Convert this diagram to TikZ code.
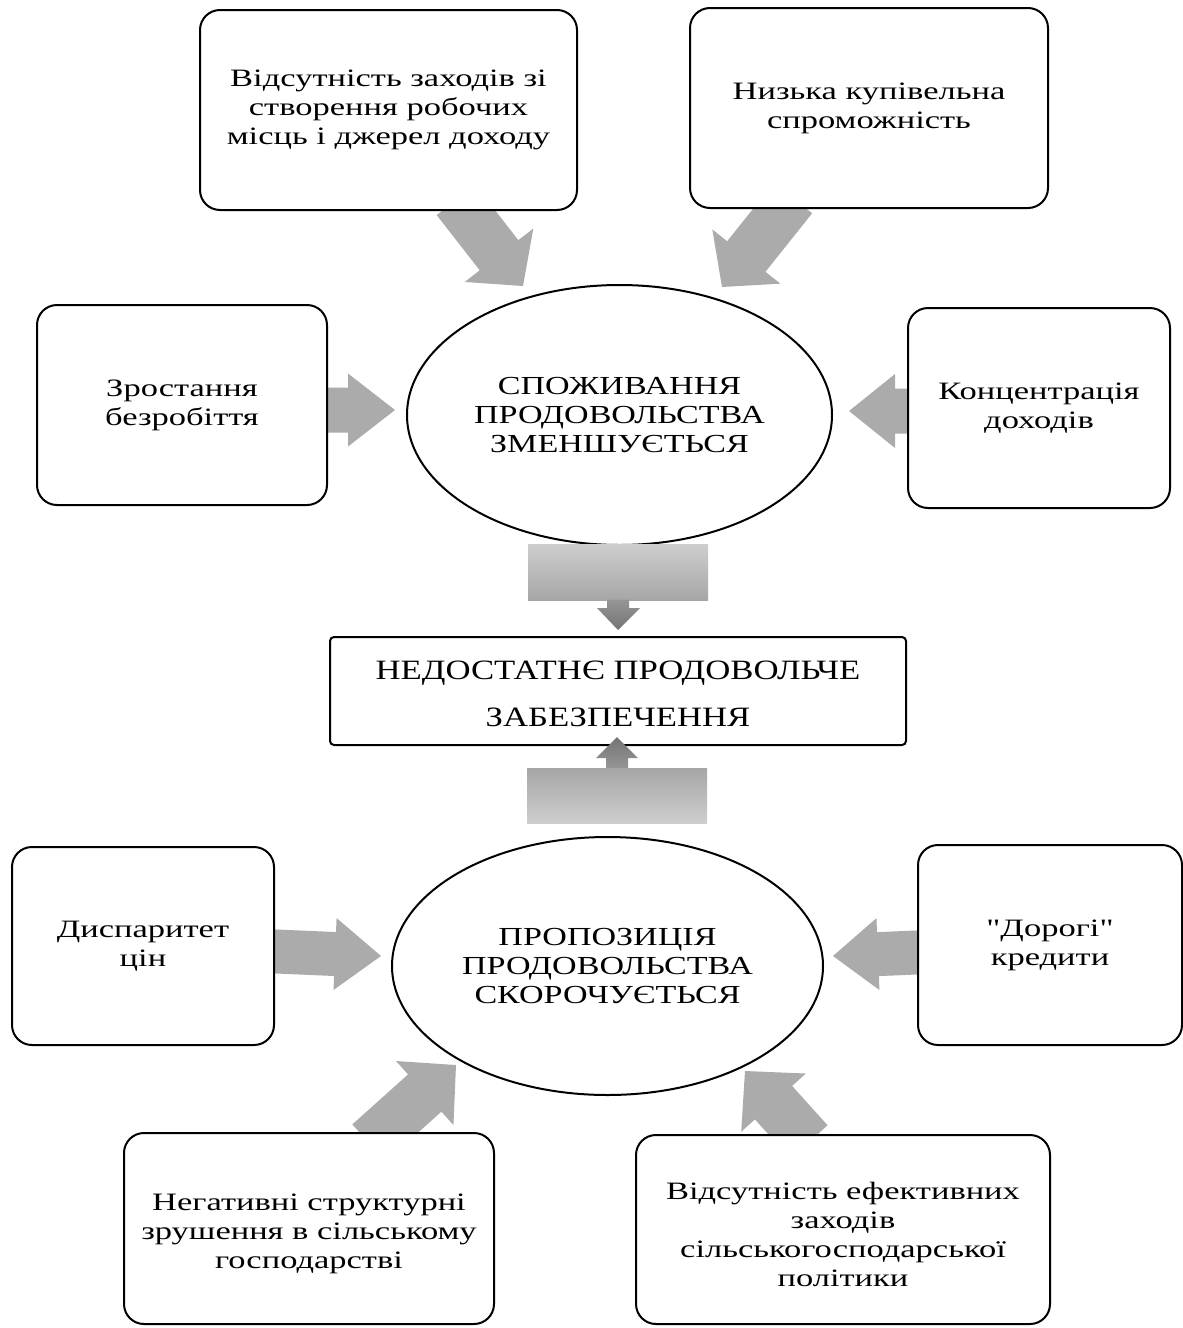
\documentclass[tikz,border=0pt]{standalone}
\usepackage{fontspec}
\setmainfont{Liberation Serif}
\newfontfamily\boxf[FakeStretch=1.38]{Liberation Serif}
\newfontfamily\ellf[FakeStretch=1.31]{Liberation Serif}
\newfontfamily\mainf[FakeStretch=1.24]{Liberation Serif}
\usetikzlibrary{calc,shapes.geometric}
\definecolor{agray}{RGB}{171,171,171}
\definecolor{glight}{RGB}{206,206,206}
\definecolor{gmid}{RGB}{166,166,166}
\definecolor{gneck}{RGB}{150,150,150}
\definecolor{gdark}{RGB}{116,116,116}
\tikzset{
  box/.style={draw=black, line width=1pt, rounded corners=10pt, fill=white, inner sep=0pt, align=center,
    font=\boxf\fontsize{12.5}{14.5}\selectfont},
  boxtext/.style={inner sep=0pt, align=center, font=\boxf\fontsize{12.5}{14.5}\selectfont},
  mainbox/.style={draw=black, line width=1pt, rounded corners=2pt, fill=white, inner sep=0pt, align=center},
  maintext/.style={inner sep=0pt, align=center, font=\mainf\fontsize{14}{23.5}\selectfont},
  ell/.style={draw=black, line width=1pt, ellipse, fill=white, inner sep=0pt, align=center,
    font=\ellf\fontsize{13}{14.5}\selectfont},
}
\newcommand\barrow[5]{%
  \coordinate (hb) at ($(#2)!#5!(#1)$);
  \fill[agray] ($(#1)!#3!90:(#2)$) -- ($(hb)!#3!-90:(#1)$) -- ($(hb)!#4!-90:(#1)$) -- (#2)
    -- ($(hb)!#4!90:(#1)$) -- ($(hb)!#3!90:(#1)$) -- ($(#1)!#3!-90:(#2)$) -- cycle;
}
\begin{document}
\begin{tikzpicture}[x=0.5pt,y=-0.5pt]
\useasboundingbox (0,0) rectangle (1183,1328);

% arrow end points
\coordinate (a1t) at (456,200);  \coordinate (a1h) at (523,286);
\coordinate (a2t) at (793,198);  \coordinate (a2h) at (722,287);
\coordinate (a3t) at (315,410);  \coordinate (a3h) at (395,410);
\coordinate (a4t) at (920,411);  \coordinate (a4h) at (849,411);
\coordinate (a5t) at (265,951);  \coordinate (a5h) at (381,956);
\coordinate (a6t) at (928,952);  \coordinate (a6h) at (833,956);
\coordinate (a7t) at (369,1143); \coordinate (a7h) at (456,1065);
\coordinate (a8t) at (809,1142); \coordinate (a8h) at (745,1071);

\barrow{a1t}{a1h}{12.25pt}{21.75pt}{19.5pt}
\barrow{a2t}{a2h}{12.25pt}{21.75pt}{19.5pt}
\barrow{a3t}{a3h}{11.25pt}{18.25pt}{23.5pt}
\barrow{a4t}{a4h}{11.25pt}{18.5pt}{23pt}
\barrow{a5t}{a5h}{11pt}{18pt}{23pt}
\barrow{a6t}{a6h}{11pt}{18pt}{22.5pt}
\barrow{a7t}{a7h}{12.5pt}{21.5pt}{21pt}
\barrow{a8t}{a8h}{12.5pt}{21.75pt}{21.3pt}

% boxes
\node[box, minimum width=188.5pt, minimum height=100pt] (A) at (388.5,110)
  {Відсутність заходів зі\\створення робочих\\місць і джерел доходу};
\node[box, minimum width=179pt, minimum height=100pt] (B) at (869,108)
  {Низька купівельна\\спроможність};
\node[box, minimum width=145pt, minimum height=100pt] (C) at (182,405)
  {Зростання\\безробіття};
\node[box, minimum width=131pt, minimum height=100pt] (D) at (1039,408)
  {Концентрація\\доходів};
\node[box, minimum width=131pt, minimum height=99pt] (E) at (143,946)
  {Диспаритет\\цін};
\node[box, minimum width=132pt, minimum height=100pt] (F) at (1050,945)
  {\symbol{34}Дорогі\symbol{34}\\кредити};
\node[box, minimum width=185pt, minimum height=95.5pt] (G) at (309,1228.5) {};
\node[boxtext] (Gt) at (309,1234)
  {Негативні структурні\\зрушення в сільському\\господарстві};
\node[box, minimum width=207pt, minimum height=94.5pt] (H) at (843,1229.5) {};
\node[boxtext] (Ht) at (843,1234.5)
  {Відсутність ефективних\\заходів\\сільськогосподарської\\політики};

% ellipses
\node[ell, minimum width=212.5pt, minimum height=130pt] (E1) at (619.5,415)
  {СПОЖИВАННЯ\\ПРОДОВОЛЬСТВА\\ЗМЕНШУЄТЬСЯ};
\node[ell, minimum width=215.5pt, minimum height=129pt] (E2) at (607.5,966)
  {ПРОПОЗИЦІЯ\\ПРОДОВОЛЬСТВА\\СКОРОЧУЄТЬСЯ};

% central box
\node[mainbox, minimum width=288pt, minimum height=54pt] (N) at (618,691) {};
\node[maintext] (Nt) at (618,694) {НЕДОСТАТНЄ ПРОДОВОЛЬЧЕ\\ЗАБЕЗПЕЧЕННЯ};

% gradient arrows
\shade[top color=glight, bottom color=gmid] (528,544) rectangle (708,600);
\shade[top color=gneck, bottom color=gdark] (607,599.5) -- (629,599.5) -- (629,608) -- (640,608)
  -- (618,630) -- (597,608) -- (607,608) -- cycle;
\shade[top color=gdark, bottom color=gneck] (617,737) -- (638,758) -- (628,758) -- (628,768.5)
  -- (606,768.5) -- (606,758) -- (596,758) -- cycle;
\shade[top color=gmid, bottom color=glight] (527,768) rectangle (707,823);
\end{tikzpicture}
\end{document}
